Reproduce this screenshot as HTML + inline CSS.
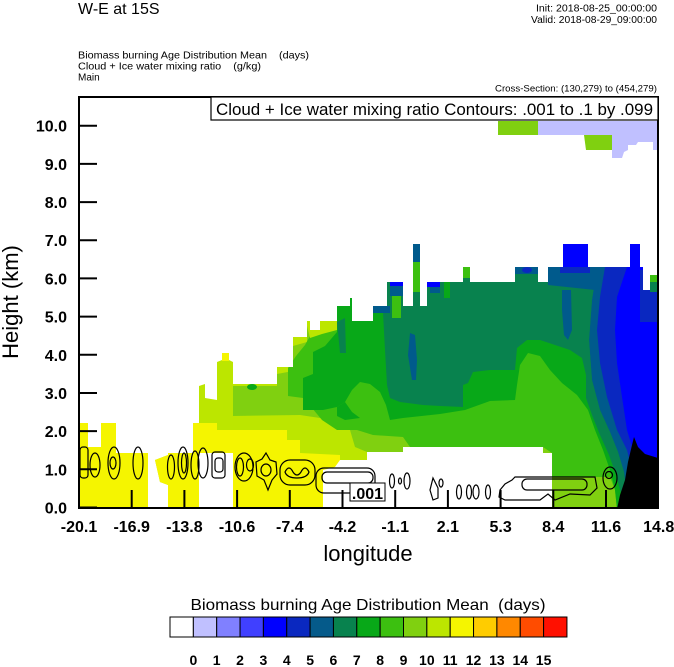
<!DOCTYPE html>
<html><head><meta charset="utf-8">
<style>
html,body{margin:0;padding:0;background:#fff;}
svg{display:block}
text{font-family:"Liberation Sans",Arial,Helvetica,sans-serif;fill:#000}
</style></head>
<body>
<svg width="674" height="667" viewBox="0 0 674 667" xmlns="http://www.w3.org/2000/svg">
<defs>
<clipPath id="env">
<path d="M79,508 L79,423 L88,423 L88,447 L101,447 L101,423 L116,423 L116,453 L148,453 L148,508 Z
M155,460 L168,455 L168,453 L193,453 L193,423 L199,423 L199,386 L205,384 L205,398 L217,400 L217,362 L222,360 L222,353 L229,353 L229,360 L233,362 L233,384 L277,384 L277,367 L293,367 L293,337 L307,337 L307,321 L310,321 L310,330 L320,330 L320,321 L337,321 L337,306 L350,306 L350,298 L352,298 L352,321 L373,321 L373,306 L387,306 L387,282 L403,282 L403,306 L413,306 L413,244 L420,244 L420,306 L427,306 L427,282 L463,282 L463,267 L470,267 L470,282 L515,282 L515,267 L538,267 L538,282 L548,282 L548,267 L563,267 L563,244 L588,244 L588,267 L630,267 L630,244 L640,244 L640,267 L643,267 L643,290 L650,290 L650,275 L658,275 L658,508 L168,508 L168,485 L160,482 Z"/>
</clipPath>
</defs>

<!-- header texts -->
<text x="78" y="14" font-size="16">W-E at 15S</text>
<text x="657" y="11.5" font-size="10" text-anchor="end" textLength="121" lengthAdjust="spacingAndGlyphs">Init: 2018-08-25_00:00:00</text>
<text x="657" y="23" font-size="10" text-anchor="end" textLength="126" lengthAdjust="spacingAndGlyphs">Valid: 2018-08-29_09:00:00</text>
<text x="78" y="58.5" font-size="10" xml:space="preserve" style="white-space:pre" textLength="231" lengthAdjust="spacingAndGlyphs">Biomass burning Age Distribution Mean    (days)</text>
<text x="78" y="69.5" font-size="10" xml:space="preserve" style="white-space:pre" textLength="183" lengthAdjust="spacingAndGlyphs">Cloud + Ice water mixing ratio    (g/kg)</text>
<text x="78" y="80.5" font-size="10">Main</text>
<text x="657" y="91.5" font-size="9" text-anchor="end" textLength="162" lengthAdjust="spacingAndGlyphs">Cross-Section: (130,279) to (454,279)</text>

<!-- data field -->
<g clip-path="url(#env)">
<rect x="79" y="240" width="580" height="270" fill="#BCE600"/>
<!-- yellow -->
<path d="M79,508 L79,423 L88,423 L88,447 L101,447 L101,423 L116,423 L116,453 L148,453 L148,508 Z" fill="#F5F500"/>
<path d="M150,460 L168,453 L193,453 L193,423 L217,423 L217,430 L287,430 L287,440 L300,440 L300,453 L340,455 L340,467 L323,470 L323,508 L150,508 Z" fill="#F5F500"/>
<rect x="222" y="353" width="7" height="8" fill="#F5F500"/>
<!-- 80D010 -->
<path d="M233,386 L277,386 L277,374 L293,371 L293,346 L307,342 L307,326 L320,326 L337,325 L337,240 L658,240 L658,509 L552,509 L552,453 L403,452 L367,452 L355,447 L350,430 L340,422 L320,418 L300,415 L233,416 Z" fill="#80D010"/>
<!-- 3CC010 -->
<path d="M288,368 L296,356 L305,345 L310,336 L322,332 L337,328 L337,240 L658,240 L658,509 L617,509 L615,490 L610,477 L552,477 L552,453 L543,447 L410,447 L403,437 L373,435 L357,430 L337,430 L322,420 L312,408 L303,398 L288,396 Z" fill="#3CC010"/>
<ellipse cx="252" cy="387" rx="5" ry="3" fill="#08A818"/>
<!-- 08A818 -->
<path d="M303,378 L313,374 L313,352 L325,346 L337,332 L337,240 L600,240 L600,300 L598,340 L600,380 L607,410 L617,435 L625,460 L630,490 L628,509 L617,509 L615,490 L610,470 L603,450 L595,430 L588,410 L577,395 L562,383 L550,370 L540,356 L528,353 L520,365 L517,385 L515,400 L490,401 L465,410 L440,414 L403,418 L390,420 L386,405 L380,392 L370,384 L360,382 L352,390 L345,402 L337,407 L323,410 L303,410 Z" fill="#08A818"/>
<!-- 08824E teal -->
<path d="M337,322 L345,318 L346,353 L340,353 Z" fill="#08824E"/>
<path d="M383,313 L383,240 L597,240 L597,267 L592,300 L589,340 L592,380 L600,410 L610,432 L618,452 L624,472 L627,495 L622,497 L616,475 L609,455 L600,435 L592,415 L586,398 L586,375 L582,358 L570,350 L555,345 L540,340 L527,340 L517,348 L515,370 L490,370 L473,372 L468,383 L463,385 L463,407 L440,406 L423,405 L400,402 L390,398 L387,385 L385,350 Z" fill="#08824E"/>
<!-- teal-blue tongues -->
<path d="M410,333 L415,335 L417,360 L416,380 L412,380 L408,355 Z" fill="#005A8C"/>
<path d="M562,290 L571,290 L572,330 L568,340 L564,335 L562,310 Z" fill="#005A8C"/>
<!-- right bands -->
<path d="M597,240 L597,267 L592,300 L589,340 L592,380 L600,410 L610,432 L618,452 L624,472 L627,497 L658,497 L658,240 Z" fill="#005A8C"/>
<path d="M605,240 L605,267 L600,297 L597,330 L600,363 L607,397 L617,430 L627,450 L632,470 L635,497 L658,497 L658,240 Z" fill="#0A28C0"/>
<path d="M627,240 L627,267 L617,297 L615,330 L617,363 L622,397 L627,430 L633,450 L637,465 L658,465 L658,240 Z" fill="#0000FF"/>
<rect x="640" y="270" width="18" height="52" fill="#0A28C0"/>
<rect x="650" y="275" width="8" height="7" fill="#3CC010"/>
<rect x="650" y="282" width="8" height="10" fill="#08824E"/>
<!-- top tips -->
<path d="M548,267 L597,267 L595,290 L548,285 Z" fill="#005A8C"/>
<rect x="560" y="264" width="30" height="9" fill="#0A28C0"/>
<rect x="563" y="244" width="25" height="23" fill="#0000FF"/>
<rect x="515" y="267" width="23" height="7" fill="#005A8C"/>
<ellipse cx="527" cy="270" rx="5" ry="3" fill="#0A28C0"/>
<rect x="463" y="267" width="7" height="11" fill="#3CC010"/>
<rect x="444" y="282" width="6" height="16" fill="#08A818"/>
<rect x="430" y="282" width="10" height="11" fill="#005A8C"/>
<rect x="427" y="282" width="13" height="5" fill="#0000FF"/>
<rect x="413" y="244" width="7" height="18" fill="#005A8C"/>
<rect x="413" y="262" width="7" height="30" fill="#3CC010"/>
<rect x="390" y="286" width="13" height="10" fill="#005A8C"/>
<rect x="390" y="282" width="13" height="4" fill="#0000FF"/>
<rect x="392" y="296" width="9" height="22" fill="#3CC010"/>
<rect x="373" y="306" width="17" height="7" fill="#005A8C"/>
<path d="M307,326 L320,324 L337,323 L337,330 L322,334 L310,338 Z" fill="#BCE600"/>
<path d="M337,407 L345,402 L352,412 L360,418 L345,420 L337,416 Z" fill="#08A818"/>
<!-- white holes -->
<rect x="199" y="453" width="34" height="56" fill="#fff"/>
<path d="M323,509 L323,470 L335,467 L340,460 L367,460 L367,452 L403,452 L403,447 L543,447 L543,453 L552,453 L552,509 Z" fill="#fff"/>
<!-- terrain -->
<path d="M617,509 L620,495 L625,480 L628,462 L632,445 L634,437 L638,447 L645,454 L658,458 L658,509 Z" fill="#000"/>
</g>

<!-- top-right patches -->
<rect x="498" y="121" width="40" height="14" fill="#80D010"/>
<rect x="538" y="121" width="120" height="14" fill="#C0C0FF"/>
<path d="M584,135 L612,135 L612,150 L586,150 Z" fill="#80D010"/>
<path d="M612,135 L658,135 L658,150 L653,150 L653,142 L638,142 L636,145 L628,145 L628,150 L624,152 L622,158 L612,158 Z" fill="#C0C0FF"/>

<!-- contours -->
<g fill="none" stroke="#000" stroke-width="1.2">
<rect x="80" y="447" width="8" height="31" rx="3"/>
<ellipse cx="95" cy="465" rx="5" ry="12"/>
<ellipse cx="114" cy="463" rx="6" ry="16"/>
<ellipse cx="113" cy="463" rx="3" ry="6"/>
<ellipse cx="138" cy="463" rx="5" ry="16"/>
<ellipse cx="171" cy="467" rx="3.5" ry="12"/>
<ellipse cx="183" cy="463" rx="5" ry="16"/>
<ellipse cx="184" cy="463" rx="2.5" ry="10"/>
<ellipse cx="195" cy="465" rx="4" ry="14"/>
<ellipse cx="203" cy="463" rx="5" ry="15"/>
<rect x="212" y="452" width="13" height="26" rx="3"/>
<rect x="215" y="458" width="8" height="14" rx="3"/>
<ellipse cx="244" cy="467" rx="9" ry="14"/>
<ellipse cx="240" cy="467" rx="3.5" ry="9"/>
<ellipse cx="250" cy="465" rx="3.5" ry="6"/>
<path d="M266,453 L270,460 L276,462 L277,474 L272,480 L268,490 L264,480 L257,476 L256,462 L262,459 Z"/>
<ellipse cx="266" cy="470" rx="5" ry="6"/>
<rect x="280" y="460" width="35" height="25" rx="10"/>
<path d="M285,472 q4,-8 8,0 q4,6 8,0 q4,-8 8,0 q-2,6 -12,6 q-10,0 -12,-6z"/>
<rect x="316" y="468" width="59" height="25" rx="8"/>
<rect x="322" y="472" width="51" height="11" rx="5"/>
<ellipse cx="392" cy="481" rx="2.5" ry="7"/>
<ellipse cx="400" cy="481" rx="1.5" ry="3"/>
<ellipse cx="407" cy="481" rx="3" ry="8"/>
<path d="M433,478 L438,488 L438,498 L433,500 L430,490 Z"/>
<ellipse cx="441" cy="483" rx="2" ry="4"/>
<ellipse cx="459" cy="492" rx="2.5" ry="7"/>
<ellipse cx="469" cy="492" rx="2.5" ry="7"/>
<ellipse cx="476" cy="492" rx="3" ry="7"/>
<ellipse cx="488" cy="492" rx="2.5" ry="7"/>
<path d="M500,490 L505,484 L512,480 L515,477 L595,477 L597,488 L590,495 L570,494 L555,500 L548,494 L540,500 L505,500 L499,497 Z"/>
<rect x="522" y="479" width="65" height="11" rx="5"/>
<ellipse cx="610" cy="478" rx="7" ry="11"/>
<circle cx="609" cy="475" r="3.5"/>
</g>
<rect x="350" y="483" width="35" height="18" fill="#fff" stroke="#000" stroke-width="1"/>
<text x="367.5" y="499" font-size="16" font-weight="bold" text-anchor="middle">.001</text>

<!-- frame -->
<rect x="79" y="97" width="579" height="411" fill="none" stroke="#000" stroke-width="2"/>

<!-- legend box -->
<rect x="211" y="97" width="447" height="23" fill="#fff" stroke="#000" stroke-width="1.2"/>
<text x="216" y="115" font-size="17" textLength="437" lengthAdjust="spacingAndGlyphs">Cloud + Ice water mixing ratio Contours: .001 to .1 by .099</text>

<!-- y ticks -->
<g stroke="#000" stroke-width="2">
<line x1="79" y1="507.5" x2="97" y2="507.5"/>
<line x1="79" y1="469.3" x2="97" y2="469.3"/>
<line x1="79" y1="431.1" x2="97" y2="431.1"/>
<line x1="79" y1="393" x2="97" y2="393"/>
<line x1="79" y1="354.8" x2="97" y2="354.8"/>
<line x1="79" y1="316.6" x2="97" y2="316.6"/>
<line x1="79" y1="278.4" x2="97" y2="278.4"/>
<line x1="79" y1="240.2" x2="97" y2="240.2"/>
<line x1="79" y1="202.1" x2="97" y2="202.1"/>
<line x1="79" y1="163.9" x2="97" y2="163.9"/>
<line x1="79" y1="125.7" x2="97" y2="125.7"/>
</g>
<g font-size="16" font-weight="bold" text-anchor="end">
<text x="67" y="513.5">0.0</text>
<text x="67" y="475.3">1.0</text>
<text x="67" y="437.1">2.0</text>
<text x="67" y="399">3.0</text>
<text x="67" y="360.8">4.0</text>
<text x="67" y="322.6">5.0</text>
<text x="67" y="284.4">6.0</text>
<text x="67" y="246.2">7.0</text>
<text x="67" y="208.1">8.0</text>
<text x="67" y="169.9">9.0</text>
<text x="67" y="131.7">10.0</text>
</g>

<!-- x ticks -->
<g stroke="#000" stroke-width="2">
<line x1="131.7" y1="508" x2="131.7" y2="490"/>
<line x1="184.4" y1="508" x2="184.4" y2="490"/>
<line x1="237.1" y1="508" x2="237.1" y2="490"/>
<line x1="289.8" y1="508" x2="289.8" y2="490"/>
<line x1="342.5" y1="508" x2="342.5" y2="490"/>
<line x1="395.2" y1="508" x2="395.2" y2="490"/>
<line x1="447.9" y1="508" x2="447.9" y2="490"/>
<line x1="500.6" y1="508" x2="500.6" y2="490"/>
<line x1="553.3" y1="508" x2="553.3" y2="490"/>
<line x1="606" y1="508" x2="606" y2="490"/>
</g>
<g font-size="16" font-weight="bold" text-anchor="middle">
<text x="79" y="532">-20.1</text>
<text x="131.7" y="532">-16.9</text>
<text x="184.4" y="532">-13.8</text>
<text x="237.1" y="532">-10.6</text>
<text x="289.8" y="532">-7.4</text>
<text x="342.5" y="532">-4.2</text>
<text x="395.2" y="532">-1.1</text>
<text x="447.9" y="532">2.1</text>
<text x="500.6" y="532">5.3</text>
<text x="553.3" y="532">8.4</text>
<text x="606" y="532">11.6</text>
<text x="658.7" y="532">14.8</text>
</g>

<!-- axis titles -->
<text x="368" y="561" font-size="22" text-anchor="middle">longitude</text>
<text x="0" y="0" font-size="22" text-anchor="middle" transform="translate(18,302) rotate(-90)">Height (km)</text>

<!-- colorbar -->
<text x="368" y="610" font-size="16" text-anchor="middle" xml:space="preserve" style="white-space:pre" textLength="355" lengthAdjust="spacingAndGlyphs">Biomass burning Age Distribution Mean  (days)</text>
<g stroke="#000" stroke-width="1">
<rect x="170" y="617" width="23.35" height="20" fill="#FFFFFF"/>
<rect x="193.35" y="617" width="23.35" height="20" fill="#C0C0FF"/>
<rect x="216.7" y="617" width="23.35" height="20" fill="#8080FF"/>
<rect x="240.05" y="617" width="23.35" height="20" fill="#4040FF"/>
<rect x="263.4" y="617" width="23.35" height="20" fill="#0000FF"/>
<rect x="286.75" y="617" width="23.35" height="20" fill="#0A28C0"/>
<rect x="310.1" y="617" width="23.35" height="20" fill="#055A8A"/>
<rect x="333.45" y="617" width="23.35" height="20" fill="#08824E"/>
<rect x="356.8" y="617" width="23.35" height="20" fill="#08A818"/>
<rect x="380.15" y="617" width="23.35" height="20" fill="#3CC010"/>
<rect x="403.5" y="617" width="23.35" height="20" fill="#80D010"/>
<rect x="426.85" y="617" width="23.35" height="20" fill="#BCE600"/>
<rect x="450.2" y="617" width="23.35" height="20" fill="#F5F500"/>
<rect x="473.55" y="617" width="23.35" height="20" fill="#FFCC00"/>
<rect x="496.9" y="617" width="23.35" height="20" fill="#FF8800"/>
<rect x="520.25" y="617" width="23.35" height="20" fill="#FF4C00"/>
<rect x="543.6" y="617" width="23.35" height="20" fill="#FF1000"/>
</g>
<g font-size="14" font-weight="bold" text-anchor="middle">
<text x="193.35" y="665">0</text>
<text x="216.7" y="665">1</text>
<text x="240.05" y="665">2</text>
<text x="263.4" y="665">3</text>
<text x="286.75" y="665">4</text>
<text x="310.1" y="665">5</text>
<text x="333.45" y="665">6</text>
<text x="356.8" y="665">7</text>
<text x="380.15" y="665">8</text>
<text x="403.5" y="665">9</text>
<text x="426.85" y="665">10</text>
<text x="450.2" y="665">11</text>
<text x="473.55" y="665">12</text>
<text x="496.9" y="665">13</text>
<text x="520.25" y="665">14</text>
<text x="543.6" y="665">15</text>
</g>
</svg>
</body></html>
